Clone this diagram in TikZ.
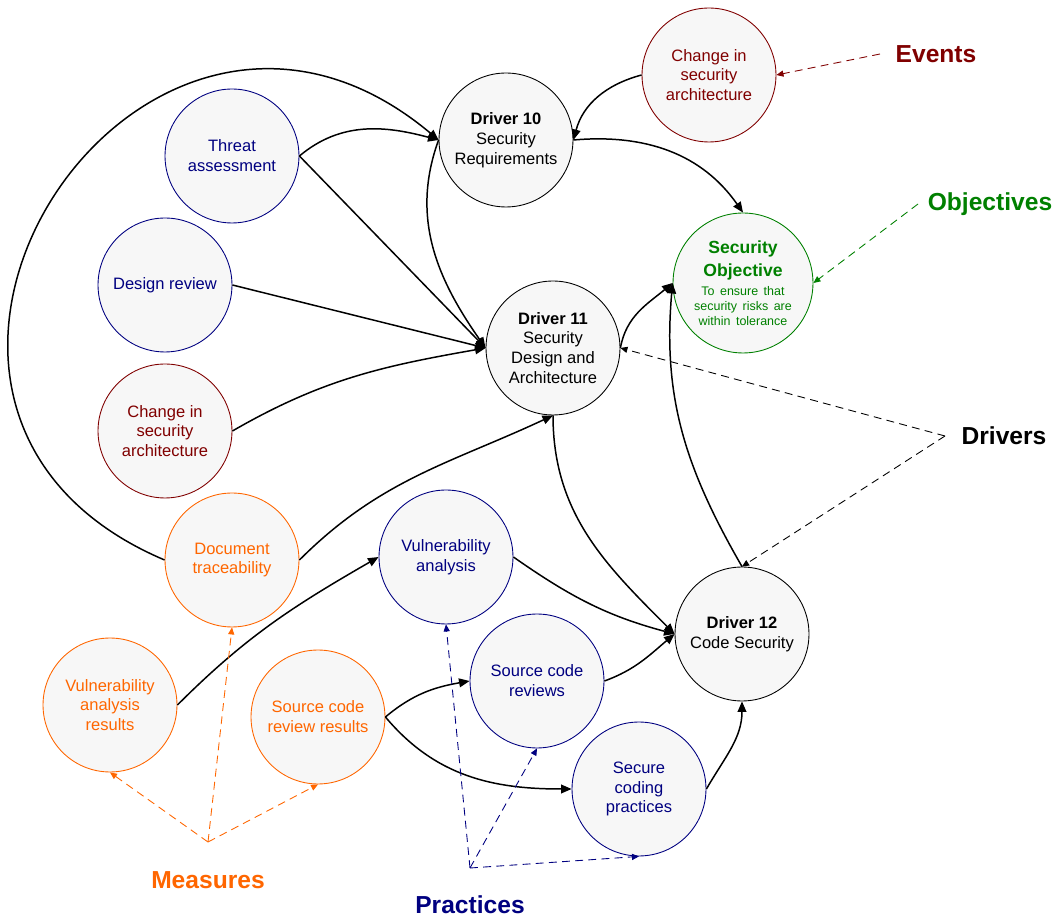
\documentclass[tikz,border=0pt]{standalone}
\usepackage{fontspec}
\setmainfont{Liberation Sans}
\usetikzlibrary{arrows.meta}
\definecolor{navy}{RGB}{0,0,128}
\definecolor{evred}{RGB}{128,0,0}
\definecolor{msorange}{RGB}{255,102,0}
\definecolor{objgreen}{RGB}{0,128,0}
\definecolor{bubblefill}{RGB}{247,247,247}

\begin{document}
\begin{tikzpicture}[x=0.02cm,y=0.02cm,
  bubble/.style={circle,draw=#1,text=#1,fill=bubblefill,line width=0.5pt,minimum size=2.68cm,
    inner sep=0pt,align=center,font=\fontsize{9.4}{11.3}\selectfont},
  link/.style={-{Triangle[length=6pt,width=5pt]},line width=0.85pt},
  hint/.style={-{Triangle[length=4pt,width=3.5pt]},draw=#1,dash pattern=on 4.5pt off 3pt,line width=0.5pt},
  grouplabel/.style={text=#1,font=\fontsize{14}{16}\selectfont\bfseries}]
  \useasboundingbox (0,0) rectangle (1056,917);

  \node[bubble=black] (d10) at (506,777) {\textbf{Driver 10}\\Security\\Requirements};
  \node[bubble=evred] (chtop) at (709,842) {Change in\\security\\architecture};
  \node[bubble=navy] (threat) at (232,761) {Threat\\assessment};
  \node[bubble=navy] (design) at (165,632) {Design review};
  \node[bubble=black] (d11) at (553,569) {\textbf{Driver 11}\\Security\\Design and\\Architecture};
  \node[bubble=objgreen,minimum size=2.8cm,text width=2.2cm] (secobj) at (743,634)
    {{\fontsize{10}{13}\selectfont\bfseries Security\\Objective\par}\vskip2.6pt
     {\fontsize{7.1}{8.5}\selectfont To ensure that\\security risks are\\within tolerance\par}\vskip-5pt};
  \node[bubble=evred] (chleft) at (165,486) {Change in\\security\\architecture};
  \node[bubble=msorange] (doctrace) at (232,357) {Document\\traceability};
  \node[bubble=navy] (vuln) at (446,360) {Vulnerability\\analysis};
  \node[bubble=black] (d12) at (742,283) {\textbf{Driver 12}\\Code Security};
  \node[bubble=msorange] (vulnres) at (110,212) {Vulnerability\\analysis\\results};
  \node[bubble=msorange] (srcres) at (318,200) {Source code\\review results};
  \node[bubble=navy] (srcrev) at (537,236) {Source code\\reviews};
  \node[bubble=navy] (secure) at (639,128) {Secure\\coding\\practices};

  \node[grouplabel=evred] (events) at (936,863) {Events};
  \node[grouplabel=objgreen] (objectives) at (990,713) {Objectives};
  \node[grouplabel=black] (drivers) at (1004,481) {Drivers};
  \node[grouplabel=msorange] (measures) at (208,37) {Measures};
  \node[grouplabel=navy] (practices) at (470,12) {Practices};

  \coordinate (evhub) at (880,863);
  \coordinate (objhub) at (918,713);
  \coordinate (drvhub) at (945,481);
  \coordinate (meshub) at (208,75);
  \coordinate (prachub) at (470,49);

  \draw[link] (chtop.west) to[out=195,in=75] (d10.east);
  \draw[link] (d10.east) to[out=5,in=125] (secobj.north);
  \draw[link] (threat.east) to[out=40,in=165] (d10.west);
  \draw[link] (threat.east) -- (d11.west);
  \draw[link] (doctrace.west) to[out=157,in=140,looseness=2] (d10.west);
  \draw[link] (d10.west) to[out=250,in=125] (d11.west);
  \draw[link] (design.east) -- (d11.west);
  \draw[link] (chleft.east) to[out=30,in=190] (d11.west);
  \draw[link] (doctrace.east) to[out=45,in=205] (d11.south);
  \draw[link] (d11.east) to[out=80,in=220] (secobj.west);
  \draw[link] (d12.north) to[out=120,in=265] (secobj.west);
  \draw[link] (d11.south) to[out=270,in=135] (d12.west);
  \draw[link] (vuln.east) to[out=-35,in=165] (d12.west);
  \draw[link] (srcrev.east) to[out=20,in=220] (d12.west);
  \draw[link] (secure.east) to[out=60,in=270] (d12.south);
  \draw[link] (vulnres.east) to[out=45,in=210] (vuln.west);
  \draw[link] (srcres.east) to[out=40,in=190] (srcrev.west);
  \draw[link] (srcres.east) to[out=-50,in=180] (secure.west);

  \draw[hint=evred] (evhub) -- (chtop.east);
  \draw[hint=objgreen] (objhub) -- (secobj.east);
  \draw[hint=black] (drvhub) -- (d11.east);
  \draw[hint=black] (drvhub) -- (d12.north);
  \draw[hint=msorange] (meshub) -- (vulnres.south);
  \draw[hint=msorange] (meshub) -- (doctrace.south);
  \draw[hint=msorange] (meshub) -- (srcres.south);
  \draw[hint=navy] (prachub) -- (vuln.south);
  \draw[hint=navy] (prachub) -- (srcrev.south);
  \draw[hint=navy] (prachub) -- (secure.south);
\end{tikzpicture}
\end{document}
